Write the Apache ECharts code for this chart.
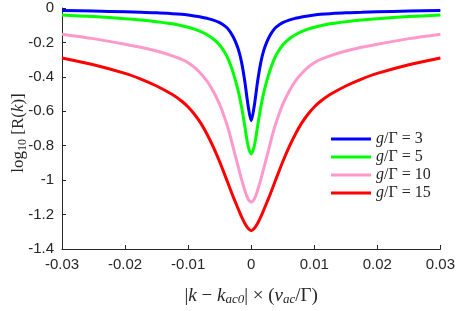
<!DOCTYPE html>
<html>
<head>
<meta charset="utf-8">
<script src="https://cdn.jsdelivr.net/npm/echarts@6/dist/echarts.min.js"></script>
<style>
html,body{margin:0;padding:0;background:#fff;}
#chart{width:458px;height:311px;}
</style>
</head>
<body>
<div id="chart"></div>
<script>
var xValues = [-0.03,-0.025,-0.02,-0.0175,-0.015,-0.0125,-0.011,-0.01,-0.009,-0.008,-0.007,-0.006,-0.005,-0.004,-0.0035,-0.003,-0.0025,-0.002,-0.0015,-0.001,-0.0005,0,
               0.0005,0.001,0.0015,0.002,0.0025,0.003,0.0035,0.004,0.005,0.006,0.007,0.008,0.009,0.01,0.011,0.0125,0.015,0.0175,0.02,0.025,0.03];
var g3 = [-0.015,-0.018,-0.022,-0.025,-0.028,-0.033,-0.037,-0.041,-0.046,-0.052,-0.06,-0.07,-0.085,-0.11,-0.13,-0.158,-0.195,-0.245,-0.32,-0.43,-0.565,-0.655,
          -0.565,-0.43,-0.32,-0.245,-0.195,-0.158,-0.13,-0.11,-0.085,-0.07,-0.06,-0.052,-0.046,-0.041,-0.037,-0.033,-0.028,-0.025,-0.022,-0.018,-0.015];
var g5 = [-0.041,-0.05,-0.062,-0.07,-0.08,-0.092,-0.103,-0.112,-0.123,-0.137,-0.155,-0.18,-0.215,-0.27,-0.31,-0.36,-0.42,-0.49,-0.58,-0.69,-0.80,-0.848,
          -0.80,-0.69,-0.58,-0.49,-0.42,-0.36,-0.31,-0.27,-0.215,-0.18,-0.155,-0.137,-0.123,-0.112,-0.103,-0.092,-0.08,-0.07,-0.062,-0.05,-0.041];
var g10 = [-0.152,-0.178,-0.21,-0.228,-0.25,-0.278,-0.299,-0.318,-0.345,-0.38,-0.425,-0.485,-0.56,-0.66,-0.72,-0.79,-0.86,-0.93,-1.0,-1.06,-1.11,-1.127,
           -1.11,-1.06,-1.0,-0.93,-0.86,-0.79,-0.72,-0.66,-0.56,-0.485,-0.425,-0.38,-0.345,-0.318,-0.299,-0.278,-0.25,-0.228,-0.21,-0.178,-0.152];
var g15 = [-0.29,-0.33,-0.38,-0.413,-0.453,-0.503,-0.542,-0.575,-0.617,-0.669,-0.733,-0.808,-0.893,-0.987,-1.035,-1.083,-1.128,-1.172,-1.215,-1.252,-1.28,-1.294,
           -1.28,-1.252,-1.215,-1.172,-1.128,-1.083,-1.035,-0.987,-0.893,-0.808,-0.733,-0.669,-0.617,-0.575,-0.542,-0.503,-0.453,-0.413,-0.38,-0.33,-0.29];
var seriesNames = ['g/Γ = 3','g/Γ = 5','g/Γ = 10','g/Γ = 15'];
var seriesValues = [g3, g5, g10, g15];
var seriesColors = ['#0000ff','#00ff00','#ff99cc','#ff0000'];

function pairs(ys){ return xValues.map(function(x,i){ return [x, ys[i]]; }); }
function fmt(v){ var r = Math.round(v*1000)/1000; return (r===0?'0':String(r)); }

var chart = echarts.init(document.getElementById('chart'), null, {renderer:'canvas'});
var axisColor = '#262626';
var serif = 'Liberation Serif, DejaVu Serif, serif';
var tickFont = {color:'#262626', fontFamily:'Liberation Sans, Arial, sans-serif', fontSize:15};
chart.setOption({
  animation:false,
  backgroundColor:'#fff',
  grid:{left:62, right:15, top:8, bottom:52, containLabel:false},
  xAxis:{
    type:'value', min:-0.03, max:0.03, interval:0.01,
    axisLine:{show:true, onZero:false, lineStyle:{color:axisColor, width:1}},
    axisTick:{show:true, inside:true, length:4, lineStyle:{color:axisColor}},
    splitLine:{show:false},
    axisLabel:Object.assign({margin:8, formatter:function(v){return fmt(v);}}, tickFont),
    name:'{n||}{i|k}{n| − }{i|k}{s|ac0}{n|| × (}{i|v}{s|ac}{n|/Γ)}',
    nameLocation:'middle', nameGap:37,
    nameTextStyle:{
      color:'#262626', fontFamily:serif, fontSize:19,
      rich:{
        i:{fontStyle:'italic', fontFamily:serif, fontSize:19, color:'#262626'},
        n:{fontFamily:serif, fontSize:19, color:'#262626'},
        s:{fontStyle:'italic', fontFamily:serif, fontSize:13, color:'#262626', verticalAlign:'bottom', padding:[7,0,0,0]}
      }
    }
  },
  yAxis:{
    type:'value', min:-1.4, max:0, interval:0.2,
    axisLine:{show:true, onZero:false, lineStyle:{color:axisColor, width:1}},
    axisTick:{show:true, inside:true, length:4, lineStyle:{color:axisColor}},
    splitLine:{show:false},
    axisLabel:Object.assign({margin:8, formatter:function(v){return fmt(v);}}, tickFont)
  },
  graphic:[{
    type:'text', x:19, y:133, rotation:Math.PI/2,
    style:{
      text:'{n|log}{s|10}{n| [R(}{i|k}{n|)]}',
      align:'center', verticalAlign:'middle',
      fill:'#262626', font:'16px ' + serif,
      rich:{
        i:{fontStyle:'italic', fontFamily:serif, fontSize:17, fill:'#262626'},
        n:{fontFamily:serif, fontSize:17, fill:'#262626'},
        s:{fontFamily:serif, fontSize:12, fill:'#262626', verticalAlign:'bottom', padding:[7,0,0,0]}
      }
    }
  }],
  legend:{
    show:true, orient:'vertical', left:331, top:131, padding:0,
    icon:'rect', itemWidth:40, itemHeight:3, itemGap:2,
    data:seriesNames,
    formatter:function(name){ return '{i|g}{n|' + name.slice(1) + '}'; },
    textStyle:{
      color:'#262626', fontSize:16, lineHeight:16,
      rich:{
        i:{fontStyle:'italic', fontFamily:serif, fontSize:16, color:'#262626'},
        n:{fontFamily:serif, fontSize:16, color:'#262626'}
      }
    }
  },
  series: seriesValues.map(function(vals, k){
    return {
      name:seriesNames[k], type:'line', data:pairs(vals),
      showSymbol:false, smooth:0.3,
      lineStyle:{color:seriesColors[k], width:3},
      itemStyle:{color:seriesColors[k]},
      z: 10 - k
    };
  })
});
</script>
</body>
</html>
